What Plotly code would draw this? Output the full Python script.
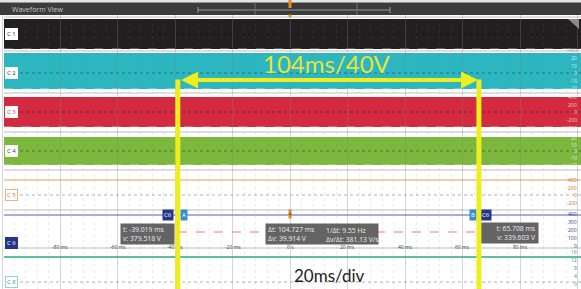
import plotly.graph_objects as go

# ---------------- data ----------------
time_ticks_ms = [-80, -60, -40, -20, 0, 20, 40, 60, 80]
time_tick_labels = ["-80 ms", "-60 ms", "-40 ms", "-20 ms", "0 s", "20 ms", "40 ms", "60 ms", "80 ms"]

channels = ["C1", "C2", "C3", "C4", "C5", "C6", "C8"]
c1_ticks = ["-400"]
c2_ticks = ["20", "10", "0", "-10", "-20"]
c3_ticks = ["400", "200", "0", "-200", "-400"]
c4_ticks = ["20", "10", "0", "-10", "-20"]
c5_ticks = ["400", "200", "0", "-200"]
c6_ticks = ["400", "300", "200", "100", "0"]
c8_ticks = ["16", "12", "8", "4", "0"]

cursor_a_t = -39.019   # ms
cursor_a_v = 379.518   # V
cursor_b_t = 65.708    # ms
cursor_b_v = 339.603   # V
delta_t = 104.727      # ms
inv_delta_t = 9.55     # Hz
delta_v = 39.914       # V
dv_dt = 381.13         # V/s

note_main = "104ms/40V"
note_div = "20ms/div"
title_text = "Waveform View"

# ---------------- layout (pixel rows / styling) ----------------
W, H = 581, 289
X_ZERO_PX = 290.0
PX_PER_MS = 2.875


def px(xp):
    """screen column -> ms on the time axis"""
    return (xp - X_ZERO_PX) / PX_PER_MS


band_rows = {"C1": (19, 49), "C2": (53, 89), "C3": (97, 127), "C4": (137, 165)}
band_colors = {"C1": "#231f20", "C2": "#2cb6c0", "C3": "#d32a3f", "C4": "#7cb83d"}
zero_rows = {"C1": 34, "C2": 73, "C3": 112, "C4": 151, "C5": 195, "C6": 243, "C8": 282}
tick_rows = {"C1": (50, 0), "C2": (58, 7.5), "C3": (97, 7.7), "C4": (138, 6.7),
             "C5": (180, 7.6), "C6": (214, 8.0), "C8": (252, 8.0)}
tick_colors = {"C1": "#9a9a9a", "C2": "rgba(255,255,255,0.8)", "C3": "rgba(255,230,230,0.8)",
               "C4": "rgba(255,255,255,0.8)", "C5": "#c8742a", "C6": "#2b3a8f", "C8": "#2a9c82"}
tick_lists = {"C1": c1_ticks, "C2": c2_ticks, "C3": c3_ticks, "C4": c4_ticks,
              "C5": c5_ticks, "C6": c6_ticks, "C8": c8_ticks}
separator_rows = [17, 51, 93, 132, 170, 210, 248]
YELLOW = "#eeee1e"
FONT = "Open Sans"

fig = go.Figure()
# invisible trace to establish axes
fig.add_trace(go.Scatter(x=[px(0), px(W)], y=[0, H], mode="markers",
                         marker=dict(opacity=0), hoverinfo="skip", showlegend=False))

shapes = []
annots = []

# top strip and bar
shapes.append(dict(type="rect", xref="paper", yref="y", x0=0, x1=1, y0=0, y1=2.5,
                   fillcolor="#e4e4e4", line_width=0, layer="above"))
shapes.append(dict(type="rect", xref="paper", yref="y", x0=0, x1=1, y0=2.5, y1=15,
                   fillcolor="#3b3b3b", line_width=0, layer="above"))
# overview timeline in bar
shapes.append(dict(type="line", xref="x", yref="y", x0=px(198), x1=px(390), y0=10, y1=10,
                   line=dict(color="#9a9a9a", width=1), layer="above"))
for xp in (198, 390):
    shapes.append(dict(type="line", xref="x", yref="y", x0=px(xp), x1=px(xp), y0=7, y1=13,
                       line=dict(color="#9a9a9a", width=1), layer="above"))
for xp in (255, 357):
    shapes.append(dict(type="line", xref="x", yref="y", x0=px(xp), x1=px(xp), y0=2.5, y1=15,
                       line=dict(color="#707070", width=1), layer="above"))
shapes.append(dict(type="line", xref="x", yref="y", x0=0, x1=0, y0=0, y1=8,
                   line=dict(color="#e8891e", width=3), layer="above"))
shapes.append(dict(type="line", xref="x", yref="y", x0=0, x1=0, y0=14.5, y1=17,
                   line=dict(color="#e8891e", width=3), layer="above"))
annots.append(dict(text=title_text, xref="paper", yref="y", x=10 / W, y=9, xanchor="left",
                   yanchor="middle", showarrow=False, font=dict(family=FONT, size=7, color="#c8c8c8")))

# separators
for r in separator_rows:
    shapes.append(dict(type="line", xref="paper", yref="y", x0=4 / W, x1=1, y0=r, y1=r,
                       line=dict(color="#bdbdbd", width=1), layer="below"))

# analog bands
for ch, (y0, y1) in band_rows.items():
    shapes.append(dict(type="rect", xref="paper", yref="y", x0=4 / W, x1=1, y0=y0, y1=y1,
                       fillcolor=band_colors[ch], line_width=0, layer="below"))
    shapes.append(dict(type="line", xref="paper", yref="y", x0=4 / W, x1=1, y0=y1, y1=y1,
                       line=dict(color="rgba(255,255,255,0.55)", width=1, dash="dash"), layer="below"))

# zero reference dashed lines
for ch in ["C1", "C2", "C3", "C4"]:
    r = zero_rows[ch]
    shapes.append(dict(type="line", xref="paper", yref="y", x0=20 / W, x1=1, y0=r, y1=r,
                       line=dict(color="rgba(0,0,0,0.35)", width=1, dash="dot"), layer="between"))
for ch in ["C5", "C8"]:
    r = zero_rows[ch]
    shapes.append(dict(type="line", xref="paper", yref="y", x0=20 / W, x1=1, y0=r, y1=r,
                       line=dict(color="#b0b0b0", width=1, dash="dot"), layer="between"))

# digital / slow traces
shapes.append(dict(type="line", xref="paper", yref="y", x0=4 / W, x1=1, y0=180, y1=180,
                   line=dict(color="#e8a05a", width=1.2), layer="between"))
shapes.append(dict(type="line", xref="paper", yref="y", x0=4 / W, x1=1, y0=215, y1=215,
                   line=dict(color="#5a5ab4", width=1.2), layer="between"))
shapes.append(dict(type="line", xref="paper", yref="y", x0=4 / W, x1=1, y0=257, y1=257,
                   line=dict(color="#2aa88a", width=1.5), layer="between"))
shapes.append(dict(type="line", xref="x", yref="y", x0=cursor_a_t, x1=cursor_b_t, y0=232, y1=232,
                   line=dict(color="#e87a7a", width=1, dash="dash"), layer="between"))
# resize handle in C1
shapes.append(dict(type="path", xref="x", yref="y",
                   path=f"M{px(568)},19 L{px(579)},19 L{px(579)},29 Z",
                   fillcolor="#8a8a8a", line_width=0, layer="above"))

# channel tags
tag_styles = {
    "C1": dict(bg="#ffffff", fg="#333333", bd="#ffffff"),
    "C2": dict(bg="#ffffff", fg="#333333", bd="#ffffff"),
    "C3": dict(bg="#ffffff", fg="#c04050", bd="#ffffff"),
    "C4": dict(bg="#ffffff", fg="#333333", bd="#ffffff"),
    "C5": dict(bg="#ffffff", fg="#d07a30", bd="#efb07a"),
    "C6": dict(bg="#26358a", fg="#ffffff", bd="#26358a"),
    "C8": dict(bg="#ffffff", fg="#2a9c82", bd="#8fd6c4"),
}
for ch in channels:
    s = tag_styles[ch]
    annots.append(dict(text=ch.replace("C", "C "), xref="paper", yref="y", x=5 / W, y=zero_rows[ch],
                       xanchor="left", yanchor="middle", showarrow=False,
                       font=dict(family=FONT, size=6, color=s["fg"]), bgcolor=s["bg"],
                       bordercolor=s["bd"], borderwidth=1, borderpad=1))

# right-hand vertical tick labels
for ch in channels:
    top, step = tick_rows[ch]
    for i, lab in enumerate(tick_lists[ch]):
        annots.append(dict(text=lab, xref="paper", yref="y", x=579 / W, y=top + i * step,
                           xanchor="right", yanchor="middle", showarrow=False,
                           font=dict(family=FONT, size=5, color=tick_colors[ch])))

# time axis labels
for t, lab in zip(time_ticks_ms, time_tick_labels):
    annots.append(dict(text=lab, xref="x", yref="y", x=t, y=246.5, xanchor="center",
                       yanchor="middle", showarrow=False,
                       font=dict(family=FONT, size=5, color="#404040")))

# cursor tags on C6
tag_font = dict(family=FONT, size=6, color="#ffffff")
annots.append(dict(text="C6", xref="x", yref="y", x=cursor_a_t - 1.4, y=215, xanchor="right",
                   yanchor="middle", showarrow=False, font=tag_font, bgcolor="#26358a", borderpad=1))
annots.append(dict(text="A", xref="x", yref="y", x=cursor_a_t + 0.6, y=215, xanchor="left",
                   yanchor="middle", showarrow=False, font=tag_font, bgcolor="#3a8ed0", borderpad=1))
annots.append(dict(text="B", xref="x", yref="y", x=cursor_b_t - 0.6, y=215, xanchor="right",
                   yanchor="middle", showarrow=False, font=tag_font, bgcolor="#3a8ed0", borderpad=1))
annots.append(dict(text="C6", xref="x", yref="y", x=cursor_b_t + 0.4, y=215, xanchor="left",
                   yanchor="middle", showarrow=False, font=tag_font, bgcolor="#26358a", borderpad=1))
annots.append(dict(text="▪", xref="x", yref="y", x=0, y=214, xanchor="center",
                   yanchor="middle", showarrow=False, font=dict(family=FONT, size=6, color="#3a2a10"),
                   bgcolor="#e08a30", borderpad=0))

# cursor readouts
box_font = dict(family=FONT, size=6.8, color="#ececec")
box_bg = "rgba(88,88,88,0.93)"
annots.append(dict(text=f"t: {cursor_a_t:.3f} ms<br>v: {cursor_a_v:.3f} V", xref="x", yref="y",
                   x=px(120), y=223, xanchor="left", yanchor="top", showarrow=False, align="left",
                   font=box_font, bgcolor=box_bg, borderpad=2, width=49, height=16))
annots.append(dict(text=f"Δt: {delta_t:.3f} ms<br>Δv: {delta_v:.3f} V", xref="x", yref="y",
                   x=px(265), y=222.5, xanchor="left", yanchor="top", showarrow=False, align="left",
                   font=box_font, bgcolor=box_bg, borderpad=2, width=108, height=16))
annots.append(dict(text=f"1/Δt: {inv_delta_t:.2f} Hz<br>Δv/Δt: {dv_dt:.2f} V/s", xref="x", yref="y",
                   x=px(324), y=223.5, xanchor="left", yanchor="top", showarrow=False, align="left",
                   font=box_font))
annots.append(dict(text=f"t: {cursor_b_t:.3f} ms<br>v: {cursor_b_v:.3f} V", xref="x", yref="y",
                   x=cursor_b_t, y=222, xanchor="left", yanchor="top", showarrow=False, align="right",
                   font=box_font, bgcolor=box_bg, borderpad=2, width=54, height=16))

# hand-drawn yellow annotation
annots.append(dict(text=note_main, xref="x", yref="y", x=px(327), y=63, xanchor="center",
                   yanchor="middle", showarrow=False, font=dict(family="Lato", size=24, color="#e4e43c")))
annots.append(dict(text=note_div, xref="x", yref="y", x=px(329), y=275, xanchor="center",
                   yanchor="middle", showarrow=False, font=dict(family="Lato", size=17, color="#222222")))
for ct in (cursor_a_t, cursor_b_t):
    annots.append(dict(text="", xref="x", yref="y", x=ct, y=H + 2, ax=ct, ay=78,
                       axref="x", ayref="y", showarrow=True, arrowhead=0, arrowwidth=5,
                       arrowcolor=YELLOW, standoff=0))
annots.append(dict(text="", xref="x", yref="y", x=cursor_b_t - 0.3, y=80, ax=cursor_a_t + 0.6, ay=80,
                   axref="x", ayref="y", showarrow=True, arrowhead=2, startarrowhead=2,
                   arrowside="end+start", arrowsize=0.85, startarrowsize=0.85, arrowwidth=4,
                   arrowcolor=YELLOW, standoff=0, startstandoff=0))

fig.update_layout(
    width=W, height=H, margin=dict(l=0, r=0, t=0, b=0),
    paper_bgcolor="#ffffff", plot_bgcolor="#ffffff",
    shapes=shapes, annotations=annots, showlegend=False,
    xaxis=dict(range=[px(0), px(W)], showgrid=True, dtick=20, tick0=0,
               gridcolor="rgba(128,128,128,0.33)", gridwidth=1, zeroline=False,
               showticklabels=False, ticks="", fixedrange=True,
               minor=dict(dtick=4, showgrid=True, gridcolor="rgba(128,128,128,0.14)", griddash="dot")),
    yaxis=dict(range=[H, 0], showgrid=False, zeroline=False, showticklabels=False,
               ticks="", fixedrange=True),
)

fig.write_html("out.html", config={"displayModeBar": False},
               post_script="document.body.style.margin='0';document.body.style.overflow='hidden';")
